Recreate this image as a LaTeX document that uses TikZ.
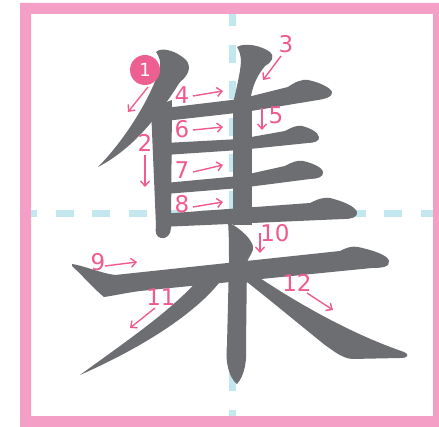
\documentclass[tikz,border=0pt]{standalone}
\usepackage{fontspec}
\usetikzlibrary{arrows.meta}
\newfontfamily\numfont{DejaVu Sans}
\definecolor{framepink}{HTML}{F4A0C6}
\definecolor{guideblue}{HTML}{C2E7EF}
\definecolor{inkgrey}{HTML}{6D6E71}
\definecolor{numpink}{HTML}{EF5B8C}
\definecolor{circpink}{HTML}{EE5F91}
\begin{document}
\begin{tikzpicture}
[
    x=1pt, y=-1pt,
    inkstroke/.style={fill=inkgrey},
    guide/.style={draw=guideblue, line width=7pt, dash pattern=on 18pt off 18.5pt},
    num/.style={text=numpink, inner sep=0pt, font=\numfont\fontsize{23}{23}\selectfont},
    arr/.style={draw=numpink, line width=1.4pt, -{Straight Barb[length=5pt,width=9pt]}}
]
    \useasboundingbox (0,0) rectangle (439,427);
    \fill[white] (0,0) rectangle (439,427);
    \fill[framepink, even odd rule] (20,3) rectangle (439,427) (31,14) rectangle (433,416);
    \draw[guide, dash phase=5.5pt] (232.5,14) -- (232.5,416);
    \draw[guide, dash phase=12pt] (31,213.5) -- (433,213.5);

    \fill[inkstroke] (156,52) .. controls (162,46) and (178,52) .. (186,60)
        .. controls (191,66) and (190,74) .. (180,82)
        .. controls (165,105) and (140,145) .. (98,167)
        .. controls (120,145) and (148,105) .. (160,68)
        .. controls (161,62) and (159,56) .. (156,52) -- cycle;
    \fill[inkstroke] (151,108) -- (172,100) -- (171,228)
        .. controls (171,235) and (166,239) .. (161,238)
        .. controls (156,237) and (155,232) .. (156,226) -- cycle;
    \fill[inkstroke] (237,47) .. controls (245,42) and (262,46) .. (270,52)
        .. controls (275,57) and (272,62) .. (265,66)
        .. controls (255,78) and (250,92) .. (250,108) -- (232,108)
        .. controls (236,90) and (240,75) .. (241,62)
        .. controls (241,55) and (239,50) .. (237,47) -- cycle;
    \fill[inkstroke] (165,108) -- (240,99) -- (288,87) .. controls (295,82) and (302,79) .. (308,80)
        .. controls (318,82) and (330,87) .. (332,92)
        .. controls (333,97) and (325,99) .. (318,100) -- (245,112) -- (165,121) -- cycle;
    \fill[inkstroke] (233,100) -- (252,100) -- (252,225) -- (233,225) -- cycle;
    \fill[inkstroke] (165,143) -- (240,139) -- (285,131) .. controls (292,127) and (298,125) .. (302,126)
        .. controls (310,128) and (318,132) .. (319,137)
        .. controls (320,141) and (314,143) .. (308,143) -- (240,150) -- (165,155) -- cycle;
    \fill[inkstroke] (165,183) -- (240,176) -- (285,166) .. controls (292,162) and (298,160) .. (303,161)
        .. controls (312,163) and (322,167) .. (323,172)
        .. controls (324,177) and (317,179) .. (310,179) -- (240,188) -- (165,194) -- cycle;
    \fill[inkstroke] (160,214) -- (310,203) .. controls (318,199) and (324,197) .. (330,198)
        .. controls (342,201) and (355,206) .. (357,212)
        .. controls (358,217) and (352,219) .. (344,219) -- (160,227) -- cycle;
    \fill[inkstroke] (72,264) .. controls (85,266) and (100,273) .. (115,275) -- (340,251)
        .. controls (348,247) and (352,246) .. (358,247)
        .. controls (372,250) and (388,255) .. (389,261)
        .. controls (390,267) and (382,268) .. (372,268) -- (140,291)
        .. controls (125,293) and (112,296) .. (104,297)
        .. controls (95,290) and (82,275) .. (72,266) -- cycle;
    \fill[inkstroke] (228,222) .. controls (236,226) and (250,236) .. (253,246)
        .. controls (254,252) and (249,256) .. (247,262) -- (246,345)
        .. controls (247,360) and (245,375) .. (237,384)
        .. controls (229,378) and (225,362) .. (227,345) -- (229,262)
        .. controls (229,250) and (229,235) .. (228,222) -- cycle;
    \fill[inkstroke] (200,278) -- (229,268) .. controls (215,295) and (170,335) .. (80,375)
        .. controls (125,342) and (170,312) .. (200,278) -- cycle;
    \fill[inkstroke] (248,270) .. controls (280,292) and (340,330) .. (404,352)
        .. controls (410,355) and (408,358) .. (400,358) -- (352,359)
        .. controls (342,358) and (335,352) .. (325,345)
        .. controls (300,325) and (270,300) .. (247,282) -- cycle;

    \node[circle, fill=circpink, minimum size=30pt, inner sep=0pt, text=white,
        font=\numfont\fontsize{18}{18}\selectfont] (c1) at (145,70) {1};
    \node[num] (n2) at (145,143) {2};
    \node[num] (n3) at (286,44) {3};
    \node[num] (n4) at (182,95) {4};
    \node[num] (n5) at (276,115) {5};
    \node[num] (n6) at (182,129) {6};
    \node[num] (n7) at (182,170) {7};
    \node[num] (n8) at (182,204) {8};
    \node[num] (n9) at (98,262) {9};
    \node[num] (n10) at (275,233) {10};
    \node[num] (n11) at (161,297) {11};
    \node[num] (n12) at (297,283) {12};

    \draw[arr] (c1) ++(3,17) -- ++(-20,25);
    \draw[arr] (n2) ++(0,12) -- ++(0,32);
    \draw[arr] (n3) ++(-5,12) -- ++(-18,24);
    \draw[arr] (n4) ++(11,1) -- ++(30,-5);
    \draw[arr] (n5) ++(-14,-7) -- ++(0,22);
    \draw[arr] (n6) ++(11,1) -- ++(30,-3);
    \draw[arr] (n7) ++(11,2) -- ++(30,-7);
    \draw[arr] (n8) ++(11,3) -- ++(30,-5);
    \draw[arr] (n9) ++(7,4) -- ++(32,-4);
    \draw[arr] (n10) ++(-15,0) -- ++(0,20);
    \draw[arr] (n11) ++(-6,11) -- ++(-25,20);
    \draw[arr] (n12) ++(10,10) -- ++(26,17);
\end{tikzpicture}
\end{document}
